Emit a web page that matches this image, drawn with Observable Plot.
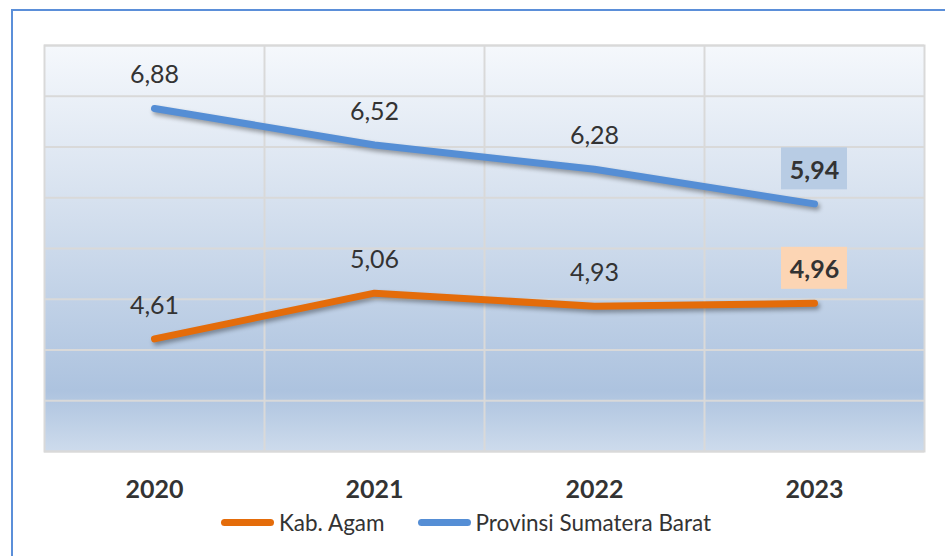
<!DOCTYPE html>
<html><head><meta charset="utf-8">
<script src="https://cdn.jsdelivr.net/npm/d3@7"></script>
<script src="https://cdn.jsdelivr.net/npm/@observablehq/plot@0.6"></script>
<style>
body{margin:0;background:#fff;font-family:Lato,sans-serif;}
#wrap{position:relative;width:945px;height:556px;overflow:hidden;background:#fff}
#border{position:absolute;left:11px;top:9px;width:980px;height:620px;border:2px solid #5b8fd9;box-sizing:border-box;pointer-events:none}
#legend{position:absolute;left:221px;top:508px;height:28px;display:flex;align-items:center;font-size:22.5px;color:#333;font-family:Lato,sans-serif}
.item{display:flex;align-items:center;margin-right:33px}
.sw{width:53px;height:7px;border-radius:4px;margin-right:5px}
</style>
</head><body>
<div id="wrap"><div id="chart"></div><div id="legend"></div><div id="border"></div></div>
<script>
const years = ["2020","2021","2022","2023"];
const agam = [4.61, 5.06, 4.93, 4.96];
const sumbar = [6.88, 6.52, 6.28, 5.94];
const seriesNames = ["Kab. Agam", "Provinsi Sumatera Barat"];
const colors = ["#e46c0a", "#558ed5"];
const boxColors = ["#fcd5b4", "#b8cce4"];

const agamData = agam.map((v,i)=>({i, v}));
const sumbarData = sumbar.map((v,i)=>({i, v}));
const fmt = v => v.toFixed(2).replace(".", ",");
const last = arr => arr.slice(-1);
const first = arr => arr.slice(0, -1);

const svg = Plot.plot({
  width: 945, height: 505,
  marginLeft: 44, marginRight: 21, marginTop: 45, marginBottom: 54,
  style: {fontFamily: "Lato, sans-serif", fontSize: "25px", color: "#333", background: "transparent", overflow: "visible"},
  x: {type: "linear", domain: [-0.5, 3.5], ticks: [0,1,2,3], tickFormat: i => years[i], tickSize: 0, tickPadding: 29, label: null},
  y: {domain: [3.5, 7.5], axis: null},
  marks: [
    Plot.frame({fill: "url(#bg)"}),
    Plot.ruleY(d3.range(3.5, 7.51, 0.5), {stroke: "#d9d9d9", strokeWidth: 2, strokeOpacity: 1}),
    Plot.ruleX([0.5, 1.5, 2.5], {stroke: "#d9d9d9", strokeWidth: 2, strokeOpacity: 1}),
    Plot.frame({stroke: "#d9d9d9", strokeWidth: 2}),
    Plot.line(agamData, {x: "i", y: "v", stroke: colors[0], strokeWidth: 7, strokeLinecap: "round", strokeLinejoin: "round"}),
    Plot.line(sumbarData, {x: "i", y: "v", stroke: colors[1], strokeWidth: 7, strokeLinecap: "round", strokeLinejoin: "round"}),
    Plot.rect(last(agamData), {x1: "i", x2: "i", y1: "v", y2: "v", insetLeft: -33, insetRight: -33, insetTop: -21, insetBottom: -21, dy: -35, fill: boxColors[0]}),
    Plot.rect(last(sumbarData), {x1: "i", x2: "i", y1: "v", y2: "v", insetLeft: -33, insetRight: -33, insetTop: -21, insetBottom: -21, dy: -35, fill: boxColors[1]}),
    Plot.text(first(agamData), {x: "i", y: "v", text: d => fmt(d.v), dy: -33, fontSize: 25, fill: "#333"}),
    Plot.text(first(sumbarData), {x: "i", y: "v", text: d => fmt(d.v), dy: -33, fontSize: 25, fill: "#333"}),
    Plot.text(last(agamData), {x: "i", y: "v", text: d => fmt(d.v), dy: -33, fontSize: 25, fontWeight: "bold", fill: "#333"}),
    Plot.text(last(sumbarData), {x: "i", y: "v", text: d => fmt(d.v), dy: -33, fontSize: 25, fontWeight: "bold", fill: "#333"})
  ]
});

const s = d3.select(svg);
const grad = s.insert("defs", ":first-child").append("linearGradient")
  .attr("id", "bg").attr("x1", 0).attr("y1", 0).attr("x2", 0).attr("y2", 1);
[[0, "#f5f8fc"], [0.35, "#d9e3f0"], [0.85, "#adc3df"], [1, "#cddbec"]].forEach(([o, c]) =>
  grad.append("stop").attr("offset", o).attr("stop-color", c));
s.selectAll('g[aria-label="line"]').style("filter", "drop-shadow(2px 3px 2px rgba(0,0,0,0.35))");
s.selectAll('g[aria-label="x-axis tick label"], g[aria-label="x-axis"]').attr("font-weight", "bold").attr("font-size", 25);

document.getElementById("chart").appendChild(svg);

const legend = d3.select("#legend");
seriesNames.forEach((n, k) => {
  const it = legend.append("div").attr("class", "item");
  it.append("div").attr("class", "sw").style("background", colors[k]);
  it.append("span").text(n);
});
</script>
</body></html>
